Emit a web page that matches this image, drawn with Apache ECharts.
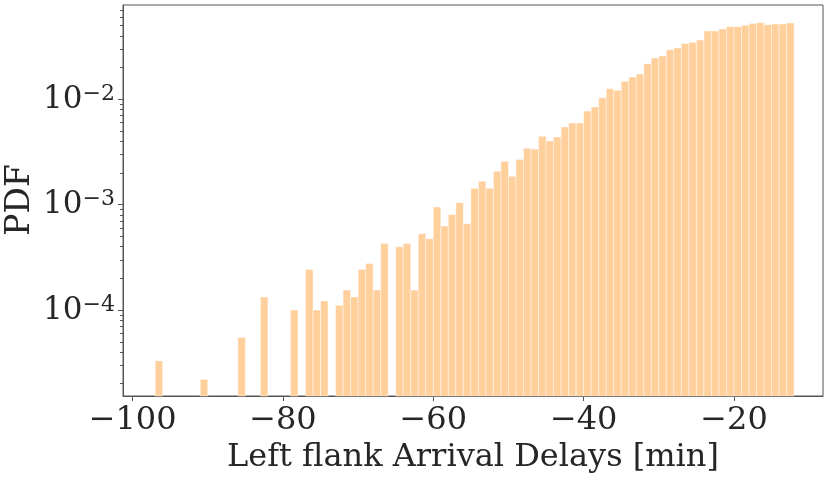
<!DOCTYPE html>
<html>
<head>
<meta charset="utf-8">
<script src="https://cdn.jsdelivr.net/npm/echarts@6/dist/echarts.min.js"></script>
<style>
  html, body { margin: 0; padding: 0; background: #fff; }
  #chart { width: 831px; height: 483px; }
</style>
</head>
<body>
<div id="chart"></div>
<script>
// left edge of each non-empty 1-minute bin
var binLeft = [-97, -91, -86, -83, -79, -77, -76, -75, -73, -72, -71, -70, -69, -68, -67,
  -65, -64, -63, -62, -61, -60, -59, -58, -57, -56, -55, -54, -53, -52, -51, -50, -49, -48,
  -47, -46, -45, -44, -43, -42, -41, -40, -39, -38, -37, -36, -35, -34, -33, -32, -31, -30,
  -29, -28, -27, -26, -25, -24, -23, -22, -21, -20, -19, -18, -17, -16, -15, -14, -13];
var binWidth = 1;
// PDF of each bin
var pdf = [3.3e-5, 2.2e-5, 5.5e-5, 1.33e-4, 1.0e-4, 2.43e-4, 1.0e-4, 1.22e-4, 1.11e-4,
  1.55e-4, 1.33e-4, 2.43e-4, 2.77e-4, 1.55e-4, 4.29e-4,
  3.99e-4, 4.29e-4, 1.55e-4, 5.30e-4, 4.75e-4, 9.50e-4, 6.27e-4, 8.09e-4, 1.045e-3, 6.59e-4,
  1.43e-3, 1.67e-3, 1.43e-3, 2.08e-3, 2.58e-3, 1.86e-3, 2.69e-3, 3.43e-3,
  3.37e-3, 4.46e-3, 4.02e-3, 4.39e-3, 5.46e-3, 5.96e-3, 5.96e-3, 7.74e-3, 8.45e-3, 1.035e-2,
  1.26e-2, 1.22e-2, 1.48e-2, 1.63e-2, 1.74e-2, 2.18e-2, 2.47e-2, 2.58e-2,
  2.96e-2, 3.07e-2, 3.39e-2, 3.47e-2, 3.65e-2, 4.45e-2, 4.45e-2, 4.65e-2, 4.89e-2, 4.89e-2,
  5.04e-2, 5.23e-2, 5.34e-2, 5.11e-2, 5.19e-2, 5.19e-2, 5.30e-2];

var xTicks = [-100, -80, -60, -40, -20];
var yTicks = [1e-4, 1e-3, 1e-2];

var xMin = -101.28, xMax = -8.16;
var yMin = 1.53e-5, yMax = 0.0785;

// log minor ticks 2..9 x 10^k
var yMinor = [];
for (var e = -5; e <= -2; e++) {
  for (var k = 2; k <= 9; k++) {
    var v = k * Math.pow(10, e);
    if (v > yMin && v < yMax) yMinor.push(v);
  }
}

var font = 'DejaVu Serif';
var txt = '#262626';

var chart = echarts.init(document.getElementById('chart'));

var option = {
  animation: false,
  grid: {
    left: 123, right: 8, top: 5, bottom: 87,
    outerBoundsMode: 'none',
    containLabel: false,
    show: true, borderColor: '#555', borderWidth: 1
  },
  // y axis title, placed by hand (axis name gets pushed off the canvas)
  graphic: [{
    type: 'text',
    x: 20, y: 200,
    rotation: Math.PI / 2,
    style: {
      text: 'PDF',
      fontFamily: font, fontSize: 33, fill: txt,
      textAlign: 'center', textVerticalAlign: 'middle'
    }
  }],
  xAxis: {
    type: 'value',
    min: xMin, max: xMax,
    name: 'Left flank Arrival Delays [min]',
    nameLocation: 'middle',
    nameGap: 44,
    nameTextStyle: { fontFamily: font, fontSize: 32, color: txt },
    splitLine: { show: false },
    axisLine: { show: true, lineStyle: { color: '#555', width: 1 } },
    axisTick: { show: true, customValues: xTicks, length: 5, lineStyle: { color: '#555' } },
    axisLabel: {
      customValues: xTicks,
      margin: 9,
      fontFamily: font, fontSize: 32, color: txt,
      formatter: function (v) { return String(v).replace('-', '\u2212'); }
    }
  },
  yAxis: [{
    type: 'log',
    min: yMin, max: yMax,
    splitLine: { show: false },
    axisLine: { show: true, lineStyle: { color: '#555', width: 1 } },
    axisTick: { show: true, customValues: yTicks, length: 5, lineStyle: { color: '#555' } },
    axisLabel: {
      customValues: yTicks,
      margin: 8,
      formatter: function (v) {
        var ex = Math.round(Math.log10(v));
        return '{b|10}{s|\u2212' + (-ex) + '}';
      },
      rich: {
        b: { fontFamily: font, fontSize: 31, color: txt, lineHeight: 32, verticalAlign: 'bottom' },
        s: { fontFamily: font, fontSize: 22, color: txt, lineHeight: 22, verticalAlign: 'top', padding: [0, 0, 12, 0] }
      }
    }
  }, {
    type: 'log',
    min: yMin, max: yMax,
    position: 'left',
    splitLine: { show: false },
    axisLine: { show: false },
    axisLabel: { show: false },
    axisTick: { show: true, customValues: yMinor, length: 3, lineStyle: { color: '#555' } }
  }],
  series: [{
    type: 'custom',
    xAxisIndex: 0,
    yAxisIndex: 0,
    data: binLeft.map(function (x, i) { return [x, pdf[i]]; }),
    renderItem: function (params, api) {
      var x0 = api.value(0);
      var p0 = api.coord([x0, api.value(1)]);
      var p1 = api.coord([x0 + binWidth, yMin]);
      return {
        type: 'rect',
        shape: { x: p0[0], y: p0[1], width: p1[0] - p0[0], height: p1[1] - p0[1] },
        style: { fill: '#ffcf9c', stroke: 'rgba(255,255,255,0.55)', lineWidth: 0.8 }
      };
    }
  }]
};

chart.setOption(option);
</script>
</body>
</html>
